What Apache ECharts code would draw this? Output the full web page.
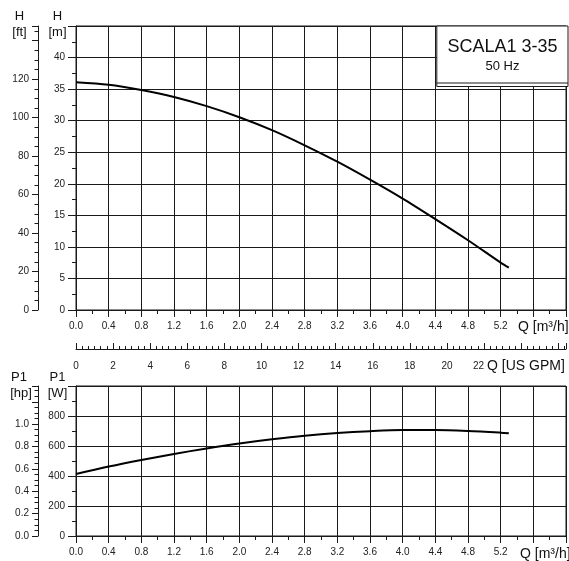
<!DOCTYPE html>
<html>
<head>
<meta charset="utf-8">
<script src="https://cdn.jsdelivr.net/npm/echarts@6/dist/echarts.min.js"></script>
<style>
html,body{margin:0;padding:0;background:#fff;}
#c{width:569px;height:561px;}
</style>
</head>
<body>
<div id="c"></div>
<script>
// ---- data ----
const headQ = [0, 0.4, 0.8, 1.2, 1.6, 2.0, 2.4, 2.8, 3.2, 3.6, 4.0, 4.4, 4.8, 5.2, 5.3];
const headH = [36.1, 35.7, 34.85, 33.75, 32.3, 30.55, 28.5, 26.1, 23.5, 20.65, 17.65, 14.4, 11.05, 7.5, 6.7];
const powerQ = [0, 0.4, 0.8, 1.2, 1.6, 2.0, 2.4, 2.8, 3.2, 3.6, 4.0, 4.4, 4.8, 5.2, 5.3];
const powerP = [413, 463, 507, 547, 584, 617, 645, 669, 687, 699, 706, 706, 700, 689, 685];
const title = 'SCALA1 3-35';
const subtitle = '50 Hz';
const qMax = 6.0;           // m3/h
const hMax = 45;            // m
const pMax = 1000;          // W
const M_TO_FT = 3.28084;
const W_TO_HP = 1 / 745.7;
const M3H_TO_GPM = 4.40287;

const FONT = 'Liberation Sans';
const C = '#1a1a1a';

const chart = echarts.init(document.getElementById('c'), null, {renderer: 'canvas'});

const G0 = {left: 76, top: 26, width: 492, height: 284};
const G1 = {left: 76, top: 386, width: 492, height: 150};

function qLabel(v) {
  return v <= 5.21 ? v.toFixed(1) : '';
}

const xBase = (gi) => ({
  type: 'value', gridIndex: gi, min: 0, max: qMax, interval: 0.4,
  axisLine: {show: true, onZero: false, lineStyle: {color: C, width: 1}},
  axisTick: {show: true, length: 7, lineStyle: {color: C}},
  minorTick: {show: true, splitNumber: 2, length: 4, lineStyle: {color: C}},
  axisLabel: {formatter: qLabel, fontFamily: FONT, fontSize: 10, color: '#222', margin: 11},
  splitLine: {show: true, lineStyle: {color: C, width: 1}},
  minorSplitLine: {show: false}
});

const option = {
  animation: false,
  backgroundColor: '#fff',
  grid: [
    Object.assign({show: true, borderColor: C, borderWidth: 1, backgroundColor: 'transparent'}, G0),
    Object.assign({show: true, borderColor: C, borderWidth: 1, backgroundColor: 'transparent'}, G1)
  ],
  xAxis: [
    xBase(0),
    xBase(1),
    {
      type: 'value', gridIndex: 0, position: 'bottom', offset: 39,
      min: 0, max: qMax * M3H_TO_GPM, interval: 2,
      axisLine: {show: true, onZero: false, lineStyle: {color: C, width: 1}},
      axisTick: {show: true, inside: true, length: 6, lineStyle: {color: C}},
      minorTick: {show: true, splitNumber: 6, length: 3, lineStyle: {color: C}},
      axisLabel: {
        fontFamily: FONT, fontSize: 10, color: '#222', margin: 12, showMaxLabel: false,
        formatter: function (v) {
          if (v > 22.01) return '';
          if (Math.abs(v - 22) < 0.01) return '{s|22}';
          return String(Math.round(v));
        },
        rich: {s: {fontFamily: FONT, fontSize: 10, color: '#222', padding: [0, 11, 0, 0]}}
      },
      splitLine: {show: false}
    }
  ],
  yAxis: [
    {
      type: 'value', gridIndex: 0, min: 0, max: hMax, interval: 5, position: 'left',
      axisLine: {show: true, onZero: false, lineStyle: {color: C}},
      axisTick: {show: true, length: 8, lineStyle: {color: C}},
      minorTick: {show: true, splitNumber: 2, length: 4, lineStyle: {color: C}},
      axisLabel: {fontFamily: FONT, fontSize: 10, color: '#222', margin: 11, showMaxLabel: false},
      splitLine: {show: true, lineStyle: {color: C, width: 1}}
    },
    {
      type: 'value', gridIndex: 0, min: 0, max: hMax * M_TO_FT, interval: 20, position: 'left', offset: 38,
      axisLine: {show: true, onZero: false, lineStyle: {color: C}},
      axisTick: {show: true, length: 6, lineStyle: {color: C}},
      minorTick: {show: true, splitNumber: 4, length: 3.5, lineStyle: {color: C}},
      axisLabel: {fontFamily: FONT, fontSize: 10, color: '#222', margin: 9, showMaxLabel: false,
        formatter: v => (v <= 120.01 ? String(Math.round(v)) : '')},
      splitLine: {show: false}
    },
    {
      type: 'value', gridIndex: 1, min: 0, max: pMax, interval: 200, position: 'left',
      axisLine: {show: true, onZero: false, lineStyle: {color: C}},
      axisTick: {show: true, length: 8, lineStyle: {color: C}},
      minorTick: {show: true, splitNumber: 2, length: 4, lineStyle: {color: C}},
      axisLabel: {fontFamily: FONT, fontSize: 10, color: '#222', margin: 11, showMaxLabel: false},
      splitLine: {show: true, lineStyle: {color: C, width: 1}}
    },
    {
      type: 'value', gridIndex: 1, min: 0, max: pMax * W_TO_HP, interval: 0.2, position: 'left', offset: 38,
      axisLine: {show: true, onZero: false, lineStyle: {color: C}},
      axisTick: {show: true, length: 6, lineStyle: {color: C}},
      minorTick: {show: true, splitNumber: 4, length: 3.5, lineStyle: {color: C}},
      axisLabel: {fontFamily: FONT, fontSize: 10, color: '#222', margin: 9, showMaxLabel: false,
        formatter: v => (v <= 1.01 ? v.toFixed(1) : '')},
      splitLine: {show: false}
    }
  ],
  series: [
    {
      type: 'line', xAxisIndex: 0, yAxisIndex: 0, smooth: 0.3, symbol: 'none',
      lineStyle: {color: '#000', width: 2},
      data: headQ.map((q, i) => [q, headH[i]]), z: 5
    },
    {
      type: 'line', xAxisIndex: 1, yAxisIndex: 2, smooth: 0.3, symbol: 'none',
      lineStyle: {color: '#000', width: 2},
      data: powerQ.map((q, i) => [q, powerP[i]]), z: 5
    }
  ],
  graphic: [
    // title box
    {type: 'rect', z: 100, shape: {x: 436.8, y: 26, width: 131.2, height: 60.5},
     style: {fill: '#fff', stroke: C, lineWidth: 1}},
    {type: 'line', z: 101, shape: {x1: 436.8, y1: 83, x2: 568, y2: 83}, style: {stroke: C, lineWidth: 1}},
    {type: 'text', z: 102, x: 502.5, y: 47, style: {text: title, font: '18px "Liberation Sans"', fill: '#111', textAlign: 'center', textVerticalAlign: 'middle'}},
    {type: 'text', z: 102, x: 502.5, y: 66.5, style: {text: subtitle, font: '13px "Liberation Sans"', fill: '#111', textAlign: 'center', textVerticalAlign: 'middle'}},
    // axis titles
    {type: 'text', x: 19.5, y: 16.5, style: {text: 'H', font: '13px "Liberation Sans"', fill: '#111', textAlign: 'center', textVerticalAlign: 'middle'}},
    {type: 'text', x: 19.5, y: 32.5, style: {text: '[ft]', font: '13px "Liberation Sans"', fill: '#111', textAlign: 'center', textVerticalAlign: 'middle'}},
    {type: 'text', x: 57.5, y: 16.5, style: {text: 'H', font: '13px "Liberation Sans"', fill: '#111', textAlign: 'center', textVerticalAlign: 'middle'}},
    {type: 'text', x: 57.5, y: 32.5, style: {text: '[m]', font: '13px "Liberation Sans"', fill: '#111', textAlign: 'center', textVerticalAlign: 'middle'}},
    {type: 'text', x: 19, y: 377.5, style: {text: 'P1', font: '13px "Liberation Sans"', fill: '#111', textAlign: 'center', textVerticalAlign: 'middle'}},
    {type: 'text', x: 21, y: 393, style: {text: '[hp]', font: '13px "Liberation Sans"', fill: '#111', textAlign: 'center', textVerticalAlign: 'middle'}},
    {type: 'text', x: 57.5, y: 377.5, style: {text: 'P1', font: '13px "Liberation Sans"', fill: '#111', textAlign: 'center', textVerticalAlign: 'middle'}},
    {type: 'text', x: 57.5, y: 393, style: {text: '[W]', font: '13px "Liberation Sans"', fill: '#111', textAlign: 'center', textVerticalAlign: 'middle'}},
    // x axis names
    {type: 'text', x: 518, y: 327.5, style: {text: 'Q [m³/h]', font: '14px "Liberation Sans"', fill: '#111', textAlign: 'left', textVerticalAlign: 'middle'}},
    {type: 'text', x: 487, y: 366.5, style: {text: 'Q [US GPM]', font: '14px "Liberation Sans"', fill: '#111', textAlign: 'left', textVerticalAlign: 'middle'}},
    {type: 'text', x: 520, y: 554, style: {text: 'Q [m³/h]', font: '14px "Liberation Sans"', fill: '#111', textAlign: 'left', textVerticalAlign: 'middle'}}
  ]
};
chart.setOption(option);
</script>
</body>
</html>
